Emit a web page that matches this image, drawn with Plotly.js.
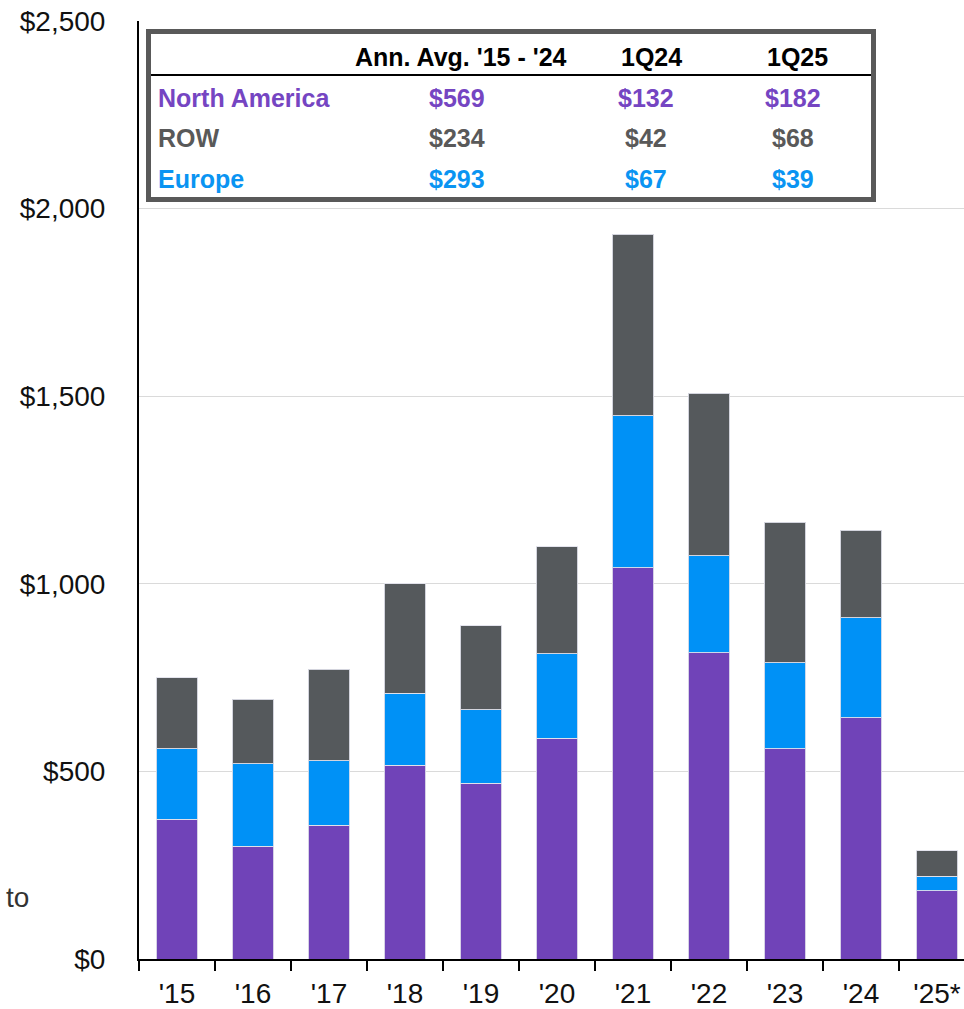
<!DOCTYPE html>
<html>
<head>
<meta charset="utf-8">
<script src="https://cdn.plot.ly/plotly-3.0.1.min.js"></script>
<style>html,body{margin:0;padding:0;background:#fff;}#chart{width:964px;height:1009px;}</style>
</head>
<body>
<div id="chart"></div>
<script>
// ---- data ----
const years = ["'15", "'16", "'17", "'18", "'19", "'20", "'21", "'22", "'23", "'24", "'25*"];
const northAmerica = [373, 301, 357, 517, 469, 589, 1043, 816, 560, 643, 182];
const europe       = [187, 219, 171, 191, 195, 224, 405, 259, 229, 266, 39];
const row          = [189, 172, 244, 292, 224, 286, 483, 433, 375, 234, 68];
const yTicks = [0, 500, 1000, 1500, 2000, 2500];
const yTickText = ['$0', '$500', '$1,000', '$1,500', '$2,000', '$2,500'];

// table contents
const tableHeaders = ["Ann. Avg. '15 - '24", "1Q24", "1Q25"];
const tableRegions = ["North America", "ROW", "Europe"];
const tableAvg  = ["$569", "$234", "$293"];
const table1Q24 = ["$132", "$42", "$67"];
const table1Q25 = ["$182", "$68", "$39"];

// ---- style ----
const W = 964, H = 1009;
const M = {l: 139, r: 0, t: 21, b: 50};
const PW = W - M.l - M.r, PH = H - M.t - M.b;
const px = x => (x - M.l) / PW;
const py = y => (H - M.b - y) / PH;

const cPurple = '#7043b8', cBlue = '#0091f6', cGray = '#55595c';
const rowColors = ['#7545c2', '#595959', '#0a94f2'];
const edge = {color: 'rgba(225,225,235,0.9)', width: 1};

const traces = [
  {type: 'bar', name: 'North America', x: years, y: northAmerica, marker: {color: cPurple, line: edge}},
  {type: 'bar', name: 'Europe', x: years, y: europe, marker: {color: cBlue, line: edge}},
  {type: 'bar', name: 'ROW', x: years, y: row, marker: {color: cGray, line: edge}}
];

const FONT = 'Liberation Sans, Arial, sans-serif';
const annotations = [];
const colX = [461, 651, 797];
const rowY = [98, 138, 179];
tableHeaders.forEach((h, i) => annotations.push({
  xref: 'paper', yref: 'paper', x: px(colX[i]), y: py(57), xanchor: 'center', yanchor: 'middle',
  text: '<b>' + h + '</b>', showarrow: false, font: {family: FONT, size: 25, color: '#000'}
}));
tableRegions.forEach((r, i) => {
  annotations.push({
    xref: 'paper', yref: 'paper', x: px(156), y: py(rowY[i]), xanchor: 'left', yanchor: 'middle',
    text: '<b>' + r + '</b>', showarrow: false, font: {family: FONT, size: 25, color: rowColors[i]}
  });
  [tableAvg, table1Q24, table1Q25].forEach((col, j) => annotations.push({
    xref: 'paper', yref: 'paper', x: px([457, 646, 793][j]), y: py(rowY[i]), xanchor: 'center', yanchor: 'middle',
    text: '<b>' + col[i] + '</b>', showarrow: false, font: {family: FONT, size: 25, color: rowColors[i]}
  }));
});
annotations.push({
  xref: 'paper', yref: 'paper', x: px(4), y: py(897), xanchor: 'left', yanchor: 'middle',
  text: 'to', showarrow: false, font: {family: FONT, size: 28, color: '#333'}
});

const shapes = [
  {type: 'rect', xref: 'paper', yref: 'paper', x0: px(148.5), x1: px(873.5), y0: py(31.5), y1: py(199.5),
   fillcolor: '#fff', line: {color: '#595959', width: 5}, layer: 'above'},
  {type: 'line', xref: 'paper', yref: 'paper', x0: px(151), x1: px(871), y0: py(75), y1: py(75),
   line: {color: '#000', width: 2}, layer: 'above'}
];

const layout = {
  width: W, height: H, margin: M,
  paper_bgcolor: '#fff', plot_bgcolor: '#fff',
  barmode: 'stack', bargap: 0.45, showlegend: false,
  font: {family: FONT, color: '#111'},
  xaxis: {
    type: 'category', range: [-0.5, 10.355], tickson: 'boundaries',
    ticks: 'outside', ticklen: 10, tickwidth: 2, tickcolor: '#000',
    showline: true, linecolor: '#000', linewidth: 2, showgrid: false,
    ticklabelstandoff: 8,
    tickfont: {family: FONT, size: 28, color: '#111'}, fixedrange: true
  },
  yaxis: {
    range: [0, 2500], tickmode: 'array', tickvals: yTicks, ticktext: yTickText,
    showline: true, linecolor: '#000', linewidth: 2,
    showgrid: true, gridcolor: '#dadada', gridwidth: 1, zeroline: false,
    ticks: '', ticklabelstandoff: 26,
    tickfont: {family: FONT, size: 28, color: '#111'}, fixedrange: true
  },
  annotations: annotations, shapes: shapes
};

Plotly.newPlot('chart', traces, layout, {staticPlot: true, displayModeBar: false});
</script>
</body>
</html>
